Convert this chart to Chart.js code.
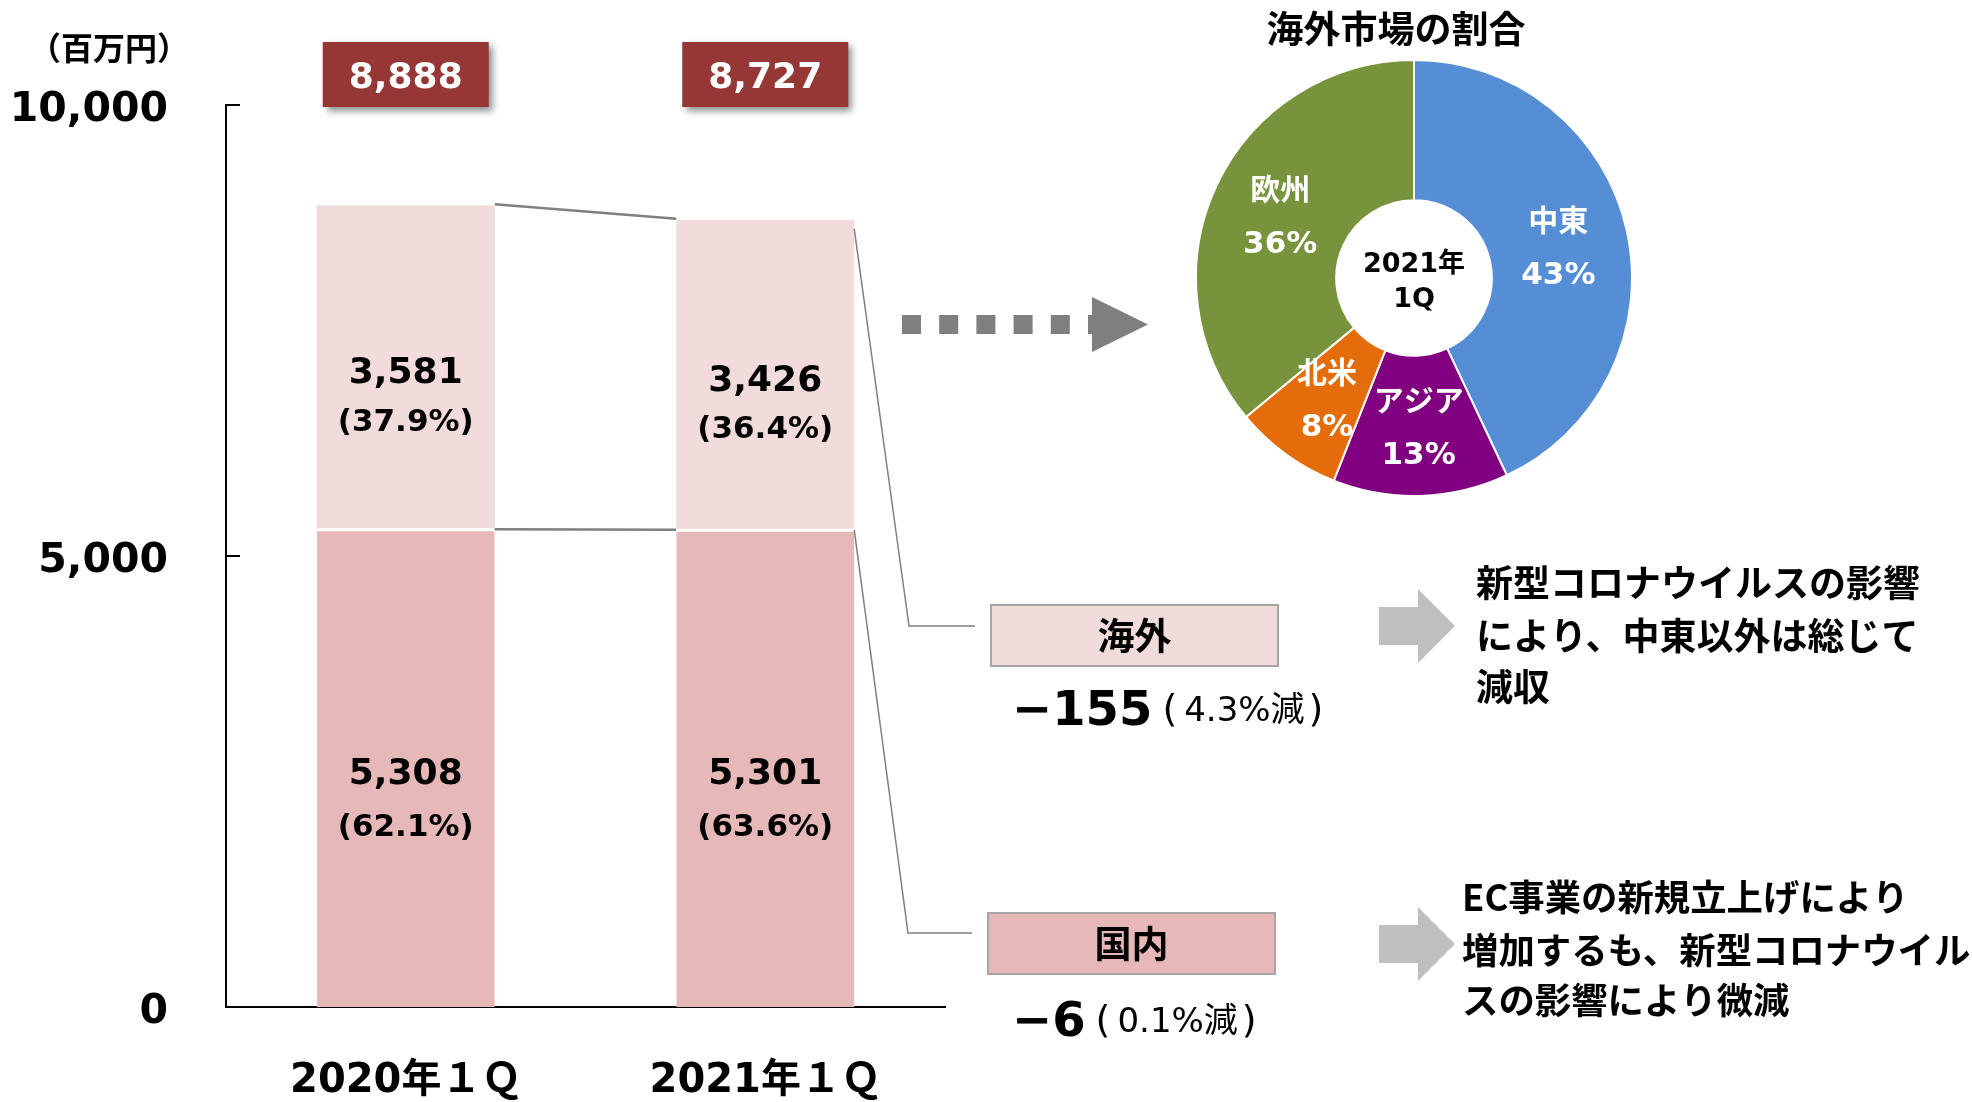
<!DOCTYPE html>
<html><head><meta charset="utf-8">
<script src="https://cdn.jsdelivr.net/npm/chart.js@4.4.1/dist/chart.umd.min.js"></script>
<style>
html,body{margin:0;padding:0;background:#fff;overflow:hidden;}
#wrap{position:relative;width:1972px;height:1102px;}
#main{position:absolute;left:0;top:0;}
#pie{position:absolute;left:1195px;top:59px;}
</style></head><body>
<div id="wrap">
<canvas id="main" width="1972" height="1102"></canvas>
<canvas id="pie" width="438" height="438"></canvas>
</div>
<script>
// ---- data ----
const categories = ['2020年１Ｑ', '2021年１Ｑ'];
const domestic = [5308, 5301];
const overseas = [3581, 3426];
const domesticShare = ['62.1%', '63.6%'];
const overseasShare = ['37.9%', '36.4%'];
const totals = [8888, 8727];
const yTicks = [0, 5000, 10000];
const yUnit = '（百万円）';

const regions = ['中東', 'アジア', '北米', '欧州'];
const regionShares = [43, 13, 8, 36];
const pieTitle = '海外市場の割合';
const pieCenter = ['2021年', '1Q'];

const changeLabels = ['海外', '国内'];
const changeValues = [-155, -6];
const changeRates = ['4.3%減', '0.1%減'];
const notes = [
  ['新型コロナウイルスの影響', 'により、中東以外は総じて', '減収'],
  ['EC事業の新規立上げにより', '増加するも、新型コロナウイル', 'スの影響により微減']
];

// ---- styles ----
const NUM = "'DejaVu Sans', 'Noto Sans CJK JP', sans-serif";
const JP = "'Noto Sans CJK JP', 'Noto Sans', sans-serif";
const C_DOM = '#E6B9B8', C_OVS = '#F2DCDB', C_BOX = '#953735';
const fmt = v => v.toLocaleString('en-US');

function txt(ctx, s, x, y, font, color, align) {
  ctx.font = font; ctx.fillStyle = color || '#000';
  ctx.textAlign = align || 'center'; ctx.textBaseline = 'middle';
  ctx.fillText(s, x, y);
  return ctx.measureText(s).width;
}

const decor = {
  id: 'decor',
  afterDraw(chart) {
    const ctx = chart.ctx, ca = chart.chartArea, ys = chart.scales.y;
    const m0 = chart.getDatasetMeta(0), m1 = chart.getDatasetMeta(1);
    ctx.save();
    // inward tick marks
    ctx.strokeStyle = '#000'; ctx.lineWidth = 2;
    yTicks.forEach(v => {
      const y = Math.round(ys.getPixelForValue(v));
      ctx.beginPath(); ctx.moveTo(ca.left, y); ctx.lineTo(ca.left + 14, y); ctx.stroke();
    });
    // unit label
    txt(ctx, yUnit, 109, 48, 'bold 32px ' + JP, '#000');

    // segment labels
    for (let j = 0; j < categories.length; j++) {
      const d = m0.data[j], o = m1.data[j];
      const dc = (d.y + d.base) / 2, oc = (o.y + o.base) / 2;
      txt(ctx, fmt(domestic[j]), d.x, dc + 7, 'bold 36px ' + NUM);
      txt(ctx, '(' + domesticShare[j] + ')', d.x, dc + 60, 'bold 31px ' + NUM);
      txt(ctx, fmt(overseas[j]), o.x, oc + 7, 'bold 36px ' + NUM);
      txt(ctx, '(' + overseasShare[j] + ')', o.x, oc + 56, 'bold 31px ' + NUM);
      // total box
      ctx.save();
      ctx.shadowColor = 'rgba(0,0,0,0.45)'; ctx.shadowBlur = 7;
      ctx.shadowOffsetX = 4; ctx.shadowOffsetY = 4;
      ctx.fillStyle = C_BOX;
      ctx.fillRect(o.x - 83, 42, 166, 65);
      ctx.restore();
      txt(ctx, fmt(totals[j]), o.x, 79, 'bold 36px ' + NUM, '#fff');
    }

    // connectors
    const o0 = m1.data[0], o1 = m1.data[1], d0 = m0.data[0], d1 = m0.data[1];
    const b1R = o0.x + o0.width / 2, b2L = o1.x - o1.width / 2, b2R = o1.x + o1.width / 2;
    ctx.strokeStyle = '#808080'; ctx.lineWidth = 2.5;
    ctx.beginPath(); ctx.moveTo(b1R, o0.y - 1); ctx.lineTo(b2L, o1.y - 1); ctx.stroke();
    ctx.beginPath(); ctx.moveTo(b1R, d0.y + 1); ctx.lineTo(b2L, d1.y + 1); ctx.stroke();
    ctx.lineWidth = 1.5;
    ctx.beginPath(); ctx.moveTo(b2R, o1.y + 9); ctx.lineTo(909, 626); ctx.lineTo(975, 626); ctx.stroke();
    ctx.beginPath(); ctx.moveTo(b2R, d1.y + 1); ctx.lineTo(908, 933); ctx.lineTo(972, 933); ctx.stroke();

    // dotted arrow
    ctx.fillStyle = '#7F7F7F';
    for (let k = 0; k < 6; k++) {
      const x = 902 + k * 37.2;
      ctx.fillRect(x, 315, Math.min(19, 1095 - x), 19);
    }
    ctx.beginPath(); ctx.moveTo(1092, 297); ctx.lineTo(1148, 324.5); ctx.lineTo(1092, 352); ctx.closePath(); ctx.fill();

    // change boxes
    const boxes = [{x: 991, y: 605, c: C_OVS, ty: 713}, {x: 988, y: 913, c: C_DOM, ty: 1024}];
    boxes.forEach((b, i) => {
      ctx.fillStyle = b.c; ctx.fillRect(b.x, b.y, 287, 61);
      ctx.strokeStyle = '#A6A6A6'; ctx.lineWidth = 2; ctx.strokeRect(b.x, b.y, 287, 61);
      txt(ctx, changeLabels[i], b.x + 143.5, b.y + 31, 'bold 37px ' + JP);
      const v = '−' + Math.abs(changeValues[i]);
      let x = 1012;
      x += txt(ctx, v, x, b.ty, 'bold 48px ' + NUM, '#000', 'left');
      x += 10;
      x += txt(ctx, '(', x, b.ty - 2, '38px ' + NUM, '#000', 'left');
      x += 7;
      x += txt(ctx, changeRates[i], x, b.ty - 1, '34px ' + NUM, '#000', 'left');
      x += 4;
      txt(ctx, ')', x, b.ty - 2, '38px ' + NUM, '#000', 'left');
    });

    // block arrows
    ctx.fillStyle = '#BFBFBF';
    [626, 944].forEach(yc => {
      ctx.beginPath();
      ctx.moveTo(1379, yc - 19); ctx.lineTo(1418, yc - 19); ctx.lineTo(1418, yc - 37);
      ctx.lineTo(1455, yc); ctx.lineTo(1418, yc + 37); ctx.lineTo(1418, yc + 19);
      ctx.lineTo(1379, yc + 19); ctx.closePath(); ctx.fill();
    });

    // notes
    notes[0].forEach((s, i) => txt(ctx, s, 1476, [583, 636, 687][i], 'bold 37px ' + JP, '#000', 'left'));
    notes[1].forEach((s, i) => txt(ctx, s, 1462, [897, 950, 1000][i], 'bold 36.4px ' + JP, '#000', 'left'));

    // pie title
    txt(ctx, pieTitle, 1396, 29, 'bold 37px ' + JP);
    ctx.restore();
  }
};

new Chart(document.getElementById('main'), {
  type: 'bar',
  data: {
    labels: categories,
    datasets: [
      {label: '国内', data: domestic, backgroundColor: C_DOM, borderColor: '#fff',
       borderWidth: {top: 3, bottom: 0, left: 0, right: 0}, borderSkipped: false},
      {label: '海外', data: overseas, backgroundColor: C_OVS, borderWidth: 0}
    ]
  },
  options: {
    responsive: false, animation: false,
    layout: {padding: {top: 105, right: 1027, bottom: 0, left: 0}},
    plugins: {legend: {display: false}, tooltip: {enabled: false}},
    datasets: {bar: {categoryPercentage: 1, barPercentage: 0.495}},
    scales: {
      x: {
        stacked: true,
        grid: {display: false},
        border: {display: true, color: '#000', width: 2},
        ticks: {font: {family: NUM, size: 40, weight: 'bold'}, color: '#000', padding: 43, maxRotation: 0},
        afterFit(s) { s.height = 95; }
      },
      y: {
        stacked: true, min: 0, max: 10000,
        grid: {display: false},
        border: {display: true, color: '#000', width: 2},
        afterBuildTicks(s) { s.ticks = yTicks.map(v => ({value: v})); },
        ticks: {font: {family: NUM, size: 41, weight: 'bold'}, color: '#000', padding: 50, labelOffset: 5,
                callback: v => fmt(v)},
        afterFit(s) { s.width = 226; }
      }
    }
  },
  plugins: [decor]
});

const pieLabels = {
  id: 'pieLabels',
  afterDatasetsDraw(chart) {
    const ctx = chart.ctx, meta = chart.getDatasetMeta(0);
    ctx.save();
    meta.data.forEach((arc, i) => {
      const p = arc.tooltipPosition();
      txt(ctx, regions[i], p.x, p.y - 26, 'bold 30px ' + JP, '#fff');
      txt(ctx, regionShares[i] + '%', p.x, p.y + 30, 'bold 31px ' + NUM, '#fff');
    });
    const a = meta.data[0];
    txt(ctx, pieCenter[0], a.x, a.y - 13, 'bold 27px ' + NUM, '#000');
    txt(ctx, pieCenter[1], a.x, a.y + 22, 'bold 27px ' + NUM, '#000');
    ctx.restore();
  }
};

new Chart(document.getElementById('pie'), {
  type: 'doughnut',
  data: {
    labels: regions,
    datasets: [{data: regionShares,
      backgroundColor: ['#558ED5', '#800080', '#E46C0A', '#77933C'],
      borderColor: '#fff', borderWidth: 2}]
  },
  options: {
    responsive: false, animation: false, cutout: '35.7%',
    layout: {padding: 0},
    plugins: {legend: {display: false}, tooltip: {enabled: false}}
  },
  plugins: [pieLabels]
});
</script>
</body></html>
